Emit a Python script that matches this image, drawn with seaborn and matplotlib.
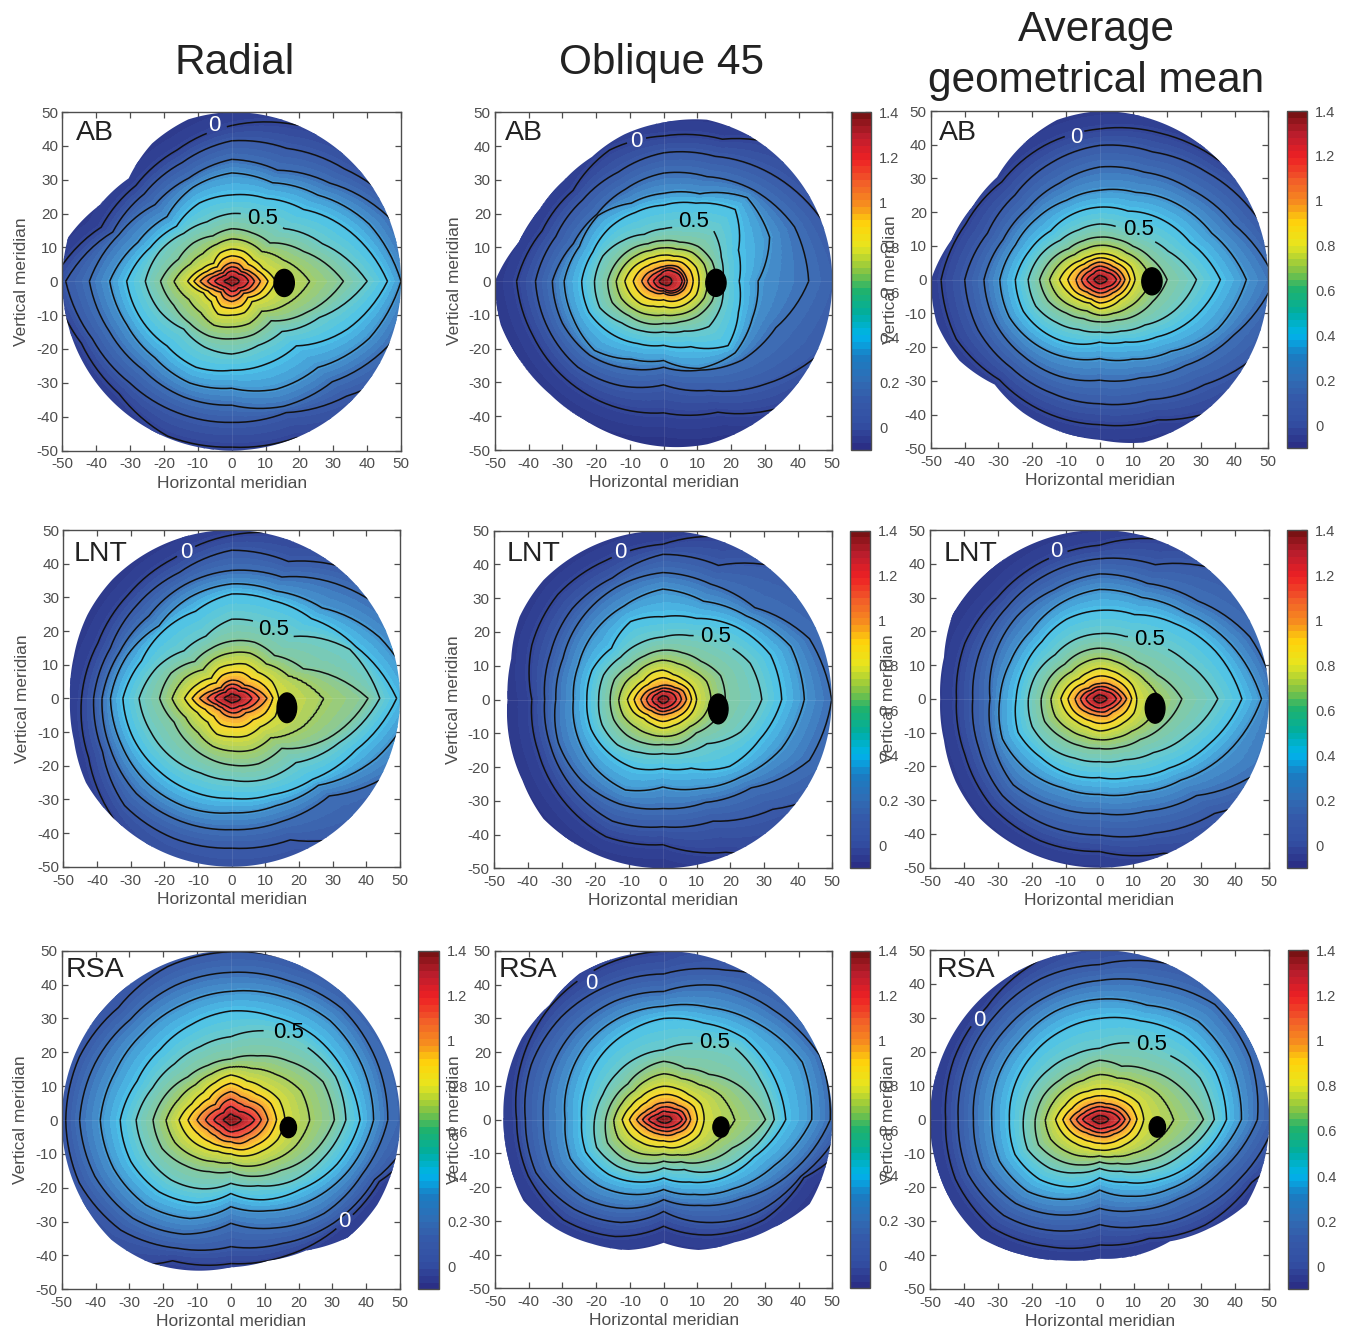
import numpy as np
import matplotlib
matplotlib.use("Agg")
import matplotlib.pyplot as plt
import matplotlib.tri as mtri
from matplotlib.cm import ScalarMappable
from matplotlib.colors import BoundaryNorm
from matplotlib.patches import Ellipse, Polygon
import seaborn as sns

ring_levels = [0, 0.1, 0.2, 0.3, 0.4, 0.5, 0.6, 0.8, 1.0, 1.2]
ring_angles = np.arange(16) * 22.5
edge_angles = np.arange(24) * 15.0
peak_value = 1.38
outside_value = -0.1

ab_radial = [
    [58, 58, 55, 50, 46, 42, 40, 41.7, 53, 48, 47, 49.5, 49, 50, 58, 58],
    [58, 54, 47, 42.5, 41.5, 38, 36.5, 38, 49, 44.5, 42.5, 42, 41.7, 42, 48, 58],
    [54, 50, 41, 35.5, 36, 33, 32, 36, 42, 39, 37, 37, 36.6, 40, 42, 50],
    [50, 44, 36, 31.5, 32, 30, 27, 30, 36, 33.5, 32, 32.5, 31.6, 34.5, 36, 44],
    [46, 38, 30, 26.5, 25.5, 25, 23, 26, 31, 29, 27, 27.5, 26.3, 26.5, 27, 37],
    [40, 29, 22, 20.5, 20, 19, 20, 23, 25.5, 23, 20, 21, 21.5, 20.5, 21, 28],
    [33, 23, 16, 15.5, 15.5, 14.5, 16, 17, 21, 18.5, 17.5, 17.5, 17, 17, 16.5, 24],
    [13, 10, 9, 9.5, 9.5, 9, 7.5, 9.5, 13, 9, 8.5, 10.5, 10, 10, 8.5, 11],
    [8.5, 6.5, 5, 5.5, 5.5, 5, 4.5, 6, 9.3, 6, 4.5, 5.5, 6, 5.5, 5, 7],
    [5, 4, 3, 3, 3, 2.8, 2.5, 3.2, 5, 3.2, 2.5, 2.5, 3, 3, 2.8, 4],
]
ab_radial_edge = [50, 50, 50, 50, 50, 50, 50, 49.5, 47, 43, 45, 50,
                  50, 50, 50, 50, 50, 50, 50, 50, 50, 50, 50, 50]

ab_oblique = [
    [58, 58, 55, 45.5, 43, 42, 38, 39, 43.6, 42, 41, 40, 39, 42, 52, 58],
    [55, 50, 45, 40, 38, 35, 34, 34.6, 38, 37, 36, 33.5, 30.7, 35, 43, 52],
    [43, 42, 38, 33.5, 32, 29.5, 28, 29, 33, 32.5, 31, 28, 25.5, 28.5, 33, 36],
    [28, 34, 35, 28, 26, 25, 27.5, 27, 29.5, 29, 29, 25, 23.5, 28, 30, 28.5],
    [22.4, 24, 30, 25, 22.5, 22, 22.5, 22.7, 24.3, 24, 22, 20, 19, 21, 27, 24],
    [17.5, 18.5, 21, 17, 15.5, 15, 17, 19.5, 20.5, 20.5, 17.5, 16, 15, 16, 19, 18.5],
    [15.5, 15.5, 14.5, 12.5, 12, 12, 13.5, 15, 16.6, 16.5, 14.5, 13.5, 12.5, 13, 14.5, 15.5],
    [10.5, 10.5, 9.5, 8, 7.7, 7.7, 8.5, 10, 11.5, 10.5, 9.5, 8, 7.5, 8.5, 9.5, 10.5],
    [7, 6.5, 6, 5, 4.3, 4.2, 4.5, 5.5, 6.5, 5.5, 4.5, 4, 3.5, 4.5, 5.5, 6.5],
    [5.5, 5, 4, 3.5, 2.8, 2.2, 2.2, 2.4, 3, 2.6, 2.4, 2.2, 2.2, 3, 4, 5],
]
ab_oblique_edge = [50, 50, 50, 50, 50, 49.5, 47, 45, 42.5, 42, 42.5, 44.5,
                   50, 50, 48.5, 47.5, 47.3, 48, 49, 50, 50, 50, 50, 50]

ab_average = [
    [58, 58, 50, 47, 44.7, 43, 41, 43, 47, 46, 42, 42.5, 43, 45, 53, 58],
    [55, 50, 45, 41, 39.8, 37.5, 35.5, 36, 40, 39, 37, 36.5, 36.8, 38.5, 44, 53],
    [52, 43, 38, 34.5, 33.4, 31, 30, 31, 34.3, 33.5, 32, 31, 29.8, 31.5, 36, 43],
    [43.5, 36, 32, 28, 26.5, 25.5, 26, 27, 29.6, 29, 27, 25, 23.4, 25.5, 30, 38],
    [35.8, 29, 25.5, 22, 21.5, 21, 20.5, 22.5, 25, 24.5, 22.5, 20.5, 18.5, 20, 24, 30],
    [28.7, 22, 18, 16.5, 16.5, 16, 16.5, 19, 21.2, 20.5, 18, 16, 15.5, 16.5, 19, 24],
    [20, 16.5, 14, 13, 12.6, 12.5, 13, 15.5, 17.8, 16.5, 14, 12.5, 12.5, 13, 15, 17],
    [10.5, 10, 8.5, 8, 7.7, 7.5, 8, 9.8, 11.9, 10, 8.5, 7.5, 8.6, 8.5, 8.5, 9.5],
    [7.5, 6.5, 5.5, 5.2, 5.2, 5, 5, 6, 7, 6.5, 5.2, 5, 5.2, 5.3, 5.5, 6.5],
    [5, 4, 3, 2.8, 2.8, 2.7, 2.5, 3, 3.8, 3, 2.7, 2.6, 2.7, 2.8, 3, 4],
]
ab_average_edge = [50, 50, 50, 50, 50, 50, 50, 49, 46, 43, 43.5, 45.5,
                   50, 50, 48, 44, 45.5, 46.5, 47.5, 50, 50, 50, 50, 50]

lnt_radial = [
    [60, 60, 60, 52, 48.5, 45, 43.5, 43, 44.6, 46, 50, 57, 60, 60, 60, 60],
    [60, 60, 53, 44, 44, 40.5, 39.5, 39, 41, 41.5, 45, 45, 44.5, 45.5, 56, 60],
    [60, 55, 47, 39, 38, 36.5, 34.7, 36, 38.5, 39, 40, 39.5, 39, 39.5, 41, 54],
    [55, 47.5, 38, 34.5, 34, 32.5, 30.5, 33.5, 36, 35.5, 35.5, 35, 34, 34.5, 36.5, 46.5],
    [49, 40, 33.5, 31.5, 31, 28, 28.5, 29, 32.3, 31.5, 30.5, 30, 29.7, 31, 34, 40],
    [44, 38, 26, 24, 23.5, 20, 20, 24, 27.5, 26, 25, 24, 24.3, 26, 27, 34.5],
    [40.5, 23, 18, 18, 17, 16, 15.5, 19.5, 21.4, 18.5, 18.5, 19, 19.8, 21, 21, 31],
    [14, 13, 11, 11, 10, 9.7, 8.5, 11, 14, 11, 10, 11.5, 11.4, 12, 12, 14],
    [10.5, 7.5, 5.5, 5.5, 5.4, 5, 4.5, 6, 9.5, 6, 5, 5.3, 5.6, 6, 6, 8],
    [6, 4.5, 3, 3, 3, 2.8, 2.5, 3.5, 5, 3.5, 2.8, 2.7, 3, 3, 3.2, 4.5],
]
lnt_radial_edge = [50, 50, 50, 50, 50, 50, 50, 50, 50, 50, 49.5, 48.5,
                   48, 48.5, 50, 50, 50, 50, 50, 50, 50, 50, 50, 50]

lnt_oblique = [
    [60, 60, 60, 52, 46, 44.5, 44, 42, 38.8, 40, 42, 44, 43, 49, 60, 60],
    [60, 60, 54, 43, 43, 39, 38, 36, 35, 36, 37.5, 39, 37.7, 39, 46, 60],
    [50, 47, 38.5, 37, 37.6, 36, 34, 32, 31.7, 33.5, 34, 33.5, 32.3, 33, 37, 47],
    [41.9, 41, 35, 31.5, 32.7, 30, 28.5, 27, 26.5, 27.5, 28.5, 29, 25.9, 28.5, 32.5, 38],
    [35.2, 34.5, 30.5, 26, 24.5, 25, 21.5, 22.7, 22.5, 23, 22.5, 22, 20.4, 22, 28, 31],
    [29.3, 28, 24, 20.5, 18.5, 18, 17.7, 19, 19, 19.5, 19, 17, 16, 17, 18.5, 25],
    [18.5, 18.5, 16, 15, 14.6, 14, 14, 15.5, 15.6, 15.7, 15, 14, 13.3, 14, 14, 16.5],
    [10, 9.5, 8.5, 8, 8.7, 8.5, 8, 9, 10.5, 9.5, 8, 8, 8.5, 8.3, 8.7, 9.5],
    [7, 6.5, 5, 4.5, 4.2, 4, 4.5, 5.5, 6.5, 5.8, 4.7, 4.5, 4.5, 4.5, 5, 6],
    [4, 3.6, 3, 2.5, 2.5, 2.3, 2.3, 2.8, 3.2, 2.8, 2.3, 2.5, 2.6, 2.6, 2.8, 3.3],
]
lnt_oblique_edge = [50, 50, 50, 50, 50, 50, 50, 50, 50, 50, 49, 46.5,
                    46, 47, 48, 50, 50, 50, 50, 50, 50, 50, 50, 50]

lnt_average = [
    [60, 60, 60, 51, 45.5, 44, 42.5, 43, 42.2, 43, 45, 45.5, 45.2, 49.5, 60, 60],
    [60, 60, 53, 43, 41.5, 40, 38.5, 38, 37.4, 38.5, 40.5, 40.5, 40.3, 43, 48, 60],
    [52, 48, 41, 37, 37, 35, 34.5, 33.5, 32.3, 34, 36, 34.5, 33.9, 36, 40.5, 53],
    [47.8, 42, 36, 32.5, 32.4, 30.5, 28.5, 28.5, 29.4, 31, 30, 28.5, 28.3, 30, 34, 41],
    [42, 37, 31.5, 27, 26.2, 25.5, 24, 24, 24.6, 26, 24.5, 24, 23.3, 25, 29, 35],
    [34.9, 28, 23, 20, 19.3, 19, 18.5, 20, 21, 21.5, 20.5, 19, 18.6, 19.5, 22.5, 28],
    [24.3, 18.5, 15.5, 15, 15, 14.8, 14.5, 16, 17.2, 17.5, 16, 15, 14.7, 15.5, 17, 20.5],
    [11, 10.5, 9.5, 9, 9, 8.5, 8.5, 10, 11.4, 10.5, 9.5, 9, 9.5, 9.5, 10, 11],
    [8, 6.5, 5.5, 5, 4.5, 4.5, 4.5, 6, 7.2, 6.5, 5.5, 5, 5, 5.5, 5.5, 6.5],
    [5, 4, 3, 2.7, 2.7, 2.6, 2.6, 3.2, 4, 3.3, 2.8, 2.7, 2.7, 2.8, 3, 3.8],
]
lnt_average_edge = [50, 50, 50, 50, 50, 50, 50, 50, 50, 50, 50, 47.5,
                    47, 47.5, 49, 50, 50, 50, 50, 50, 50, 50, 50, 50]

rsa_radial = [
    [60, 60, 60, 60, 60, 60, 60, 60, 60, 60, 58, 45, 42.4, 43.3, 44.8, 47.5],
    [56, 56, 53, 50.5, 49.7, 49, 47, 48.5, 48.8, 48.5, 46, 41, 37.4, 39.5, 43, 46],
    [46.4, 46.5, 46.5, 44.5, 43.6, 43, 42, 43.5, 44.7, 43.5, 41, 36.5, 30.5, 34.5, 39, 42],
    [42.2, 42, 41.5, 39.5, 38, 37, 36.5, 37, 38.6, 37.5, 35.5, 31.5, 25.6, 29, 33.5, 38],
    [38.2, 36.5, 35, 33, 32.2, 30.5, 29.5, 30, 32.7, 32, 30, 26.5, 21.7, 25.5, 29, 34],
    [34, 33.5, 31, 28.5, 24.6, 23.5, 23.5, 25, 28, 27, 25, 22, 18.7, 21, 25.5, 29.5],
    [30.6, 29.5, 24.5, 20.5, 18, 17.5, 18, 20.5, 23, 22, 19, 16.5, 15.3, 18, 21, 26],
    [16, 15.5, 13.5, 12.5, 13.3, 12, 11.5, 12.5, 15.3, 13.5, 11.5, 10, 10, 11.5, 13, 15],
    [11, 10, 8, 7.5, 8.4, 7.5, 6.5, 8, 10, 7.5, 6.5, 6.5, 6.4, 7.5, 8, 9.5],
    [7, 5, 3.5, 3.5, 4, 3.5, 3, 3.8, 5, 3.5, 3, 3.2, 3.5, 3.5, 4, 5],
]
rsa_radial_edge = [50, 50, 50, 50, 50, 50, 50, 50, 50, 50, 50, 50,
                   50, 50, 50, 50, 48.5, 46, 43.5, 43, 44.5, 49, 50, 50]

rsa_oblique = [
    [60, 60, 60, 60, 50, 49, 47.5, 45.5, 43.6, 43.5, 42, 37.5, 31.6, 37, 42, 45],
    [54, 55, 55, 48, 43.2, 43, 43, 42.5, 41, 41, 37.5, 33, 27.2, 33, 39, 44],
    [49.4, 50, 46, 43, 38, 38, 37.5, 36.5, 35.7, 36, 33, 28.5, 23.7, 27.5, 33, 41],
    [43.9, 44.5, 40, 36, 33.6, 33, 32, 30.5, 29.2, 30, 27.5, 24, 20.7, 24, 29, 35.5],
    [36.2, 35, 34, 31, 30, 28, 26.5, 25, 24.3, 25, 23, 20, 17.3, 20, 24.5, 29],
    [32.8, 31, 30, 24.5, 20.7, 20, 19.5, 19.5, 20.5, 21.5, 19.5, 17, 14.3, 16, 21.5, 26.5],
    [30.2, 25, 19, 16.5, 17.3, 16, 15, 16, 17.2, 18, 16.5, 14, 12.3, 13.5, 17.5, 22],
    [12, 12, 10.5, 10, 9.9, 9.5, 9.5, 10.5, 12.3, 11, 9.5, 8.5, 8, 9, 10, 11.5],
    [8, 7.5, 6, 5.5, 5, 5, 5, 6, 8, 6, 5, 4.5, 4.5, 5, 5.5, 7],
    [5.5, 4.5, 3, 2.5, 2.5, 2.3, 2.3, 3, 4.5, 3, 2.5, 2.2, 2.2, 2.5, 3, 4],
]
rsa_oblique_edge = [50, 50, 50, 50, 50, 50, 50, 50, 50, 48, 48.5, 48,
                    47.5, 47.5, 48, 45.5, 42.5, 40, 36.5, 40, 42, 45.5, 50, 50]

rsa_average = [
    [60, 60, 60, 60, 54, 50, 47, 46.5, 45.4, 46, 45, 40.5, 37, 38, 44, 48.5],
    [52, 54, 54, 50, 45.7, 45, 43.5, 42.5, 41.7, 42, 40, 35.5, 31, 34, 39, 45],
    [46.5, 48, 48, 43.5, 41, 39.5, 38.5, 38, 37.2, 37.5, 35, 30.5, 26.2, 29, 33, 39],
    [41.8, 42, 41, 36.5, 35.5, 34.5, 33, 32.5, 31.8, 32, 30, 25.5, 20.8, 24.5, 29, 34.5],
    [37.4, 37, 35, 31.5, 29.8, 28.5, 27.5, 27, 26.6, 27, 25, 21.5, 17.2, 20, 25, 31],
    [33.8, 32, 27.5, 24.5, 21, 20.5, 21, 22, 22.5, 23, 20.5, 17, 14.4, 16.5, 21, 26.5],
    [30.6, 25.5, 20.5, 17, 17.5, 16, 16.5, 18, 19, 19.5, 17, 14.5, 12.5, 14, 17.5, 23],
    [13, 12.5, 10.5, 9.5, 9, 9, 10, 11, 13, 11.5, 10, 9, 9, 9.5, 10.5, 12],
    [9, 7.5, 6, 5, 5, 5, 5.5, 6.5, 8.7, 7, 5.5, 5, 5, 5.5, 6, 7.5],
    [6, 4.5, 3.2, 2.7, 2.6, 2.6, 2.8, 3.5, 5, 3.5, 2.8, 2.7, 2.7, 2.8, 3.2, 4.5],
]
rsa_average_edge = [50, 50, 50, 50, 50, 50, 50, 50, 50, 50, 50, 50,
                    50, 50, 50, 49.5, 46, 43, 41, 41.5, 41.5, 45.5, 50, 50]

# subject, rings, edge, blind spot (x, y, w, h), "0.5" label, "0" label,
# axes box in pixels (left, top, right, bottom), colorbar box or None, subject label pixel
panels = [
    ("AB", ab_radial, ab_radial_edge, (15.5, -0.5, 6, 8), (9.2, 18.5), (-5, 46),
     (62.3, 112, 401, 450.5), None, (76, 133)),
    ("AB", ab_oblique, ab_oblique_edge, (15.5, -0.5, 6, 8), (8.8, 17.6), (-8, 41.5),
     (495, 112.3, 832.3, 450), (850.7, 870.7), (505, 133)),
    ("AB", ab_average, ab_average_edge, (15.5, -0.5, 6, 8), (11.4, 14.8), (-7, 42),
     (931, 111, 1268.3, 448.3), (1286.7, 1307), (939, 133)),
    ("LNT", lnt_radial, lnt_radial_edge, (16.4, -2.8, 5.8, 8.8), (12.3, 20.3), (-13.4, 43.4),
     (63.3, 530, 400, 866.7), None, (74, 554)),
    ("LNT", lnt_oblique, lnt_oblique_edge, (16.4, -2.8, 5.8, 8.8), (15.5, 18.6), (-12.6, 43.5),
     (494, 530.7, 831.7, 868.3), (850, 870), (507, 554)),
    ("LNT", lnt_average, lnt_average_edge, (16.4, -2.8, 5.8, 8.8), (14.7, 17.5), (-12.6, 43.6),
     (930, 530, 1269, 867.7), (1286.7, 1306.7), (944, 554)),
    ("RSA", rsa_radial, rsa_radial_edge, (17, -2.2, 4.8, 6), (17.2, 25.8), (33.6, -30),
     (61.7, 950.7, 400, 1289.3), (418, 438.7), (66, 970)),
    ("RSA", rsa_oblique, rsa_oblique_edge, (17, -2.2, 4.8, 6), (15, 23), (-21.3, 40.5),
     (495, 951, 832.3, 1288.3), (850, 870), (499, 970)),
    ("RSA", rsa_average, rsa_average_edge, (17, -2.2, 4.8, 6), (15.3, 22), (-35.5, 29.3),
     (930, 950, 1269.3, 1289), (1287.7, 1308), (937, 970)),
]

ticks = list(range(-50, 51, 10))
cbar_ticks = [0, 0.2, 0.4, 0.6, 0.8, 1, 1.2, 1.4]
cbar_labels = ["0", "0.2", "0.4", "0.6", "0.8", "1", "1.2", "1.4"]

W, H = 1347, 1330
GREY = "#4d4d4d"
DARK = "#222222"

sns.set_style("ticks")
plt.rcParams["font.family"] = ["Liberation Sans", "DejaVu Sans"]
plt.rcParams["axes.unicode_minus"] = False

# one colour every 0.1 from -0.1 to 1.4; the colorbar is more saturated than the map
bar_cmap = sns.blend_palette(
    ["#2b2f86", "#3350a3", "#3558a8", "#2f6db5", "#1b7cc2", "#00b4ec", "#00ae9f", "#1fb26e",
     "#8fc640", "#e6e620", "#fed50b", "#f68b1f", "#f15a29", "#ed2024", "#be1e2d", "#7a1214"],
    n_colors=256, as_cmap=True)
field_cmap = sns.blend_palette(
    ["#2b3587", "#34489b", "#3a5ca9", "#3f72b8", "#4699d3", "#4cc3ea", "#6ecbc8", "#86c99f",
     "#a3cd68", "#d9dd3c", "#fbd92e", "#f8a83a", "#f2703f", "#ec4040", "#b92a30", "#7a1214"],
    n_colors=256, as_cmap=True)
fill_levels = np.linspace(-0.1, 1.4, 51)
line_levels = [0.1, 0.2, 0.3, 0.4, 0.6, 0.7, 0.8, 0.9, 1.0, 1.1, 1.2, 1.3]


def build_mesh(rings):
    rows = np.array(rings, dtype=float)
    # keep the rings nested so triangles do not flip
    for i in range(len(rows) - 2, -1, -1):
        rows[i] = np.maximum(rows[i], rows[i + 1] + 0.3)
    rows = np.vstack([rows[0] + 10, rows])
    levels = [outside_value] + ring_levels
    # rings bend as arcs between the read directions, not as straight chords
    deg = np.arange(0, 360, 22.5 / 8)
    theta = np.deg2rad(deg)
    n = len(deg)
    xs, ys, zs = [0.0], [0.0], [peak_value]
    for row, level in zip(rows[::-1], levels[::-1]):
        r = np.interp(deg, ring_angles, row, period=360)
        xs.extend(r * np.cos(theta))
        ys.extend(r * np.sin(theta))
        zs.extend([level] * n)
    tris = []
    for j in range(n):
        tris.append([0, 1 + j, 1 + (j + 1) % n])
    for k in range(len(rows) - 1):
        a, b = 1 + k * n, 1 + (k + 1) * n
        for j in range(n):
            j2 = (j + 1) % n
            tris.append([a + j, b + j, b + j2])
            tris.append([a + j, b + j2, a + j2])
    return mtri.Triangulation(np.array(xs), np.array(ys), np.array(tris)), np.array(zs)


def labelled_contour(ax, tri, z, level, pos, color):
    # one contour set per label, so the gap is cut in the right line
    cs = ax.tricontour(tri, z, levels=[level], colors="#111111", linewidths=1.1)
    label = ax.clabel(cs, manual=[pos], inline=True, inline_spacing=2, fmt="%g",
                      fontsize=16, colors=color)[-1]
    label.set_rotation(0)
    label.set_position(pos)
    return cs


fig = plt.figure(figsize=(W / 100, H / 100), dpi=100)


def pixel_axes(left, top, right, bottom):
    return fig.add_axes([left / W, 1 - bottom / H, (right - left) / W, (bottom - top) / H])


for subject, rings, edge, spot, half_pos, zero_pos, box, cbar_box, name_px in panels:
    ax = pixel_axes(*box)
    tri, z = build_mesh(rings)

    # round outline through the edge radii, used only as the clip shape
    clip_deg = np.arange(0, 360, 1.0)
    clip_r = np.interp(clip_deg, edge_angles, edge, period=360)
    clip_t = np.deg2rad(clip_deg)
    outline = Polygon(np.c_[clip_r * np.cos(clip_t), clip_r * np.sin(clip_t)],
                      closed=True, fill=False, edgecolor="none", transform=ax.transData)
    ax.add_patch(outline)

    norm = BoundaryNorm(fill_levels, 256)
    filled = ax.tricontourf(tri, z, levels=fill_levels, cmap=field_cmap, norm=norm)
    lines = ax.tricontour(tri, z, levels=line_levels, colors="#111111", linewidths=1.1)
    half_line = labelled_contour(ax, tri, z, 0.5, half_pos, "black")
    zero_line = labelled_contour(ax, tri, z, 0, zero_pos, "white")

    for layer in [filled, lines, half_line, zero_line]:
        layer.set_clip_path(outline)

    for faint in [ax.axhline(0, color="white", alpha=0.12, lw=0.6),
                  ax.axvline(0, color="white", alpha=0.12, lw=0.6)]:
        faint.set_clip_path(outline)

    ax.add_patch(Ellipse(spot[:2], spot[2], spot[3], color="black", zorder=5))

    ax.set_xlim(-50, 50)
    ax.set_ylim(-50, 50)
    ax.set_xticks(ticks)
    ax.set_yticks(ticks)
    ax.tick_params(direction="in", length=4.5, width=0.9, color=GREY, labelcolor=GREY,
                   labelsize=11, top=True, right=True)
    ax.tick_params(axis="x", pad=5)
    ax.tick_params(axis="y", pad=3)
    for spine in ax.spines.values():
        spine.set_color(GREY)
        spine.set_linewidth(1.0)
    ax.set_xlabel("Horizontal meridian", fontsize=12.5, color=GREY)
    ax.set_ylabel("Vertical meridian", fontsize=12.5, color=GREY)
    ax.xaxis.set_label_coords(0.5, -0.074)
    ax.yaxis.set_label_coords(-0.099, 0.5)
    fig.text(name_px[0] / W, 1 - name_px[1] / H, subject, fontsize=20.5, color=DARK,
             ha="left", va="center", zorder=6)

    if cbar_box is not None:
        cax = pixel_axes(cbar_box[0], box[1], cbar_box[1], box[3])
        bar_norm = BoundaryNorm(fill_levels, 256)
        bar = fig.colorbar(ScalarMappable(norm=bar_norm, cmap=bar_cmap), cax=cax,
                           spacing="proportional")
        bar.set_ticks(cbar_ticks, labels=cbar_labels)
        bar.minorticks_off()
        cax.tick_params(direction="in", length=4, width=0.9, color=GREY, labelcolor=GREY,
                        labelsize=10.5, pad=6)
        bar.outline.set_edgecolor(GREY)
        bar.outline.set_linewidth(1.0)

fig.text(235 / W, 1 - 63 / H, "Radial", fontsize=30.5, color=DARK, ha="center", va="center")
fig.text(662 / W, 1 - 63 / H, "Oblique 45", fontsize=30.5, color=DARK, ha="center", va="center")
fig.text(1096 / W, 1 - 30 / H, "Average", fontsize=30.5, color=DARK, ha="center", va="center")
fig.text(1096 / W, 1 - 81 / H, "geometrical mean", fontsize=30.5, color=DARK, ha="center", va="center")

fig.savefig("out.png", dpi=100)
